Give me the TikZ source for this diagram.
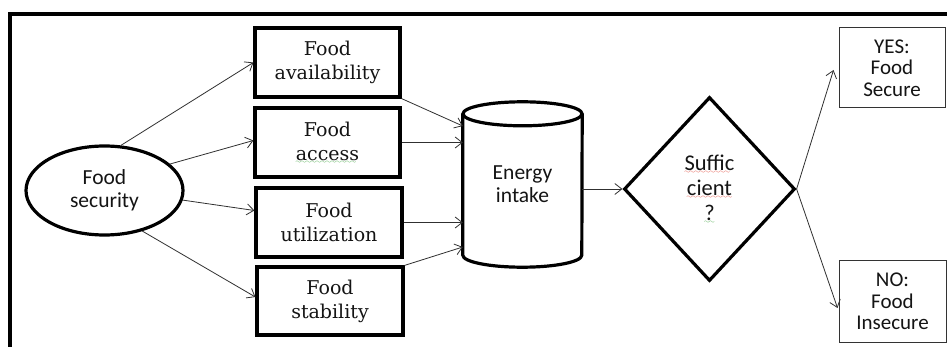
\documentclass[tikz,border=0pt]{standalone}
\usepackage{fontspec}
\setmainfont{DejaVu Serif}
\newfontfamily\calib{Carlito}
\usetikzlibrary{shapes.geometric,arrows.meta}
\definecolor{txt}{HTML}{141414}
\definecolor{arr}{HTML}{303030}
\definecolor{squigred}{HTML}{E03020}
\definecolor{squiggreen}{HTML}{30A030}
\font\mywavefont=lasy6
\newcommand\wavyul[2]{\setbox0\hbox{#2}\rlap{\textcolor{#1}{\lower3.2pt\hbox to\wd0{\leaders\hbox{\mywavefont\char58}\hfil}}}\box0}
\begin{document}
\begin{tikzpicture}[x=1pt,y=-1pt,
  thickbox/.style={draw=black,line width=3.2pt,rectangle,inner sep=0pt,align=center,text=txt,
    font=\fontsize{19}{24}\selectfont},
  thinbox/.style={draw=black!80,line width=1pt,rectangle,inner sep=0pt,align=center,text=txt,
    font=\calib\fontsize{21}{21.5}\selectfont},
  conn/.style={draw=arr,line width=0.8pt,-{Straight Barb[length=7pt,width=11pt]}}]
\useasboundingbox (0,0) rectangle (947,347);
\fill[white] (0,0) rectangle (947,347);
% outer frame
\draw[line width=3.2pt] (10,350) -- (10,14) -- (950,14);
% nodes
\node[ellipse,draw=black,line width=3.2pt,minimum width=157pt,minimum height=89pt,inner sep=0pt,
  align=center,text=txt,font=\calib\fontsize{21.5}{23}\selectfont] (fs) at (104.5,190.5) {Food\\security};
\node[thickbox,minimum width=145pt,minimum height=69pt] (avail) at (327.5,62.5) {Food\\availability};
\node[thickbox,minimum width=145pt,minimum height=69pt] (access) at (327.5,142.5) {Food\\\wavyul{squiggreen}{access}};
\node[thickbox,minimum width=146pt,minimum height=69pt] (util) at (329,222.5) {Food\\utilization};
\node[thickbox,minimum width=146pt,minimum height=68pt] (stab) at (330,301) {Food\\stability};
% cylinder
\node[minimum width=119pt,minimum height=165pt,inner sep=0pt,align=center,text=txt,
  font=\calib\fontsize{21.5}{23}\selectfont] (cyl) at (522.5,184.5) {Energy\\intake};
\draw[line width=3.2pt] ([yshift=-12pt]cyl.north west) -- ([yshift=12pt]cyl.south west)
  arc[start angle=180,end angle=360,x radius=59.5pt,y radius=12pt]
  -- ([yshift=-12pt]cyl.north east);
\draw[line width=3.2pt] ([yshift=-12pt]cyl.north) ellipse[x radius=59.5pt,y radius=12pt];
% diamond
\node[diamond,draw=black,line width=3.2pt,minimum width=171pt,minimum height=184pt,inner sep=0pt,
  aspect=0.93,align=center,text=txt,font=\calib\fontsize{22.5}{25}\selectfont] (dia) at (709.5,189)
  {\wavyul{squigred}{Suffic}\\\wavyul{squigred}{cient}\\\wavyul{squiggreen}{?}};
% outcomes
\node[thinbox,minimum width=106pt,minimum height=80pt] (yes) at (892,68) {YES:\\Food\\Secure};
\node[thinbox,minimum width=107pt,minimum height=81pt] (no) at (892.5,301.5) {NO:\\Food\\Insecure};
% connectors
\draw[conn] (fs.70) -- (avail.west);
\draw[conn] (fs.22) -- ([yshift=2pt]access.west);
\draw[conn] (fs.-7) -- ([yshift=12pt]util.west);
\draw[conn] (fs.-47) -- ([yshift=4pt]stab.west);
\draw[conn] (avail.south east) -- ([yshift=58.5pt]cyl.west);
\draw[conn] (access.east) -- (cyl.west |- access.east);
\draw[conn] (util.east) -- (cyl.west |- util.east);
\draw[conn] (stab.north east) -- ([yshift=-62.5pt]cyl.west);
\draw[conn] (cyl.east |- dia.west) -- (dia.west);
\draw[conn] (dia.east) -- ([xshift=-5pt,yshift=-2pt]yes.west);
\draw[conn] (dia.east) -- ([xshift=-1pt,yshift=-6.5pt]no.west);
\end{tikzpicture}
\end{document}
